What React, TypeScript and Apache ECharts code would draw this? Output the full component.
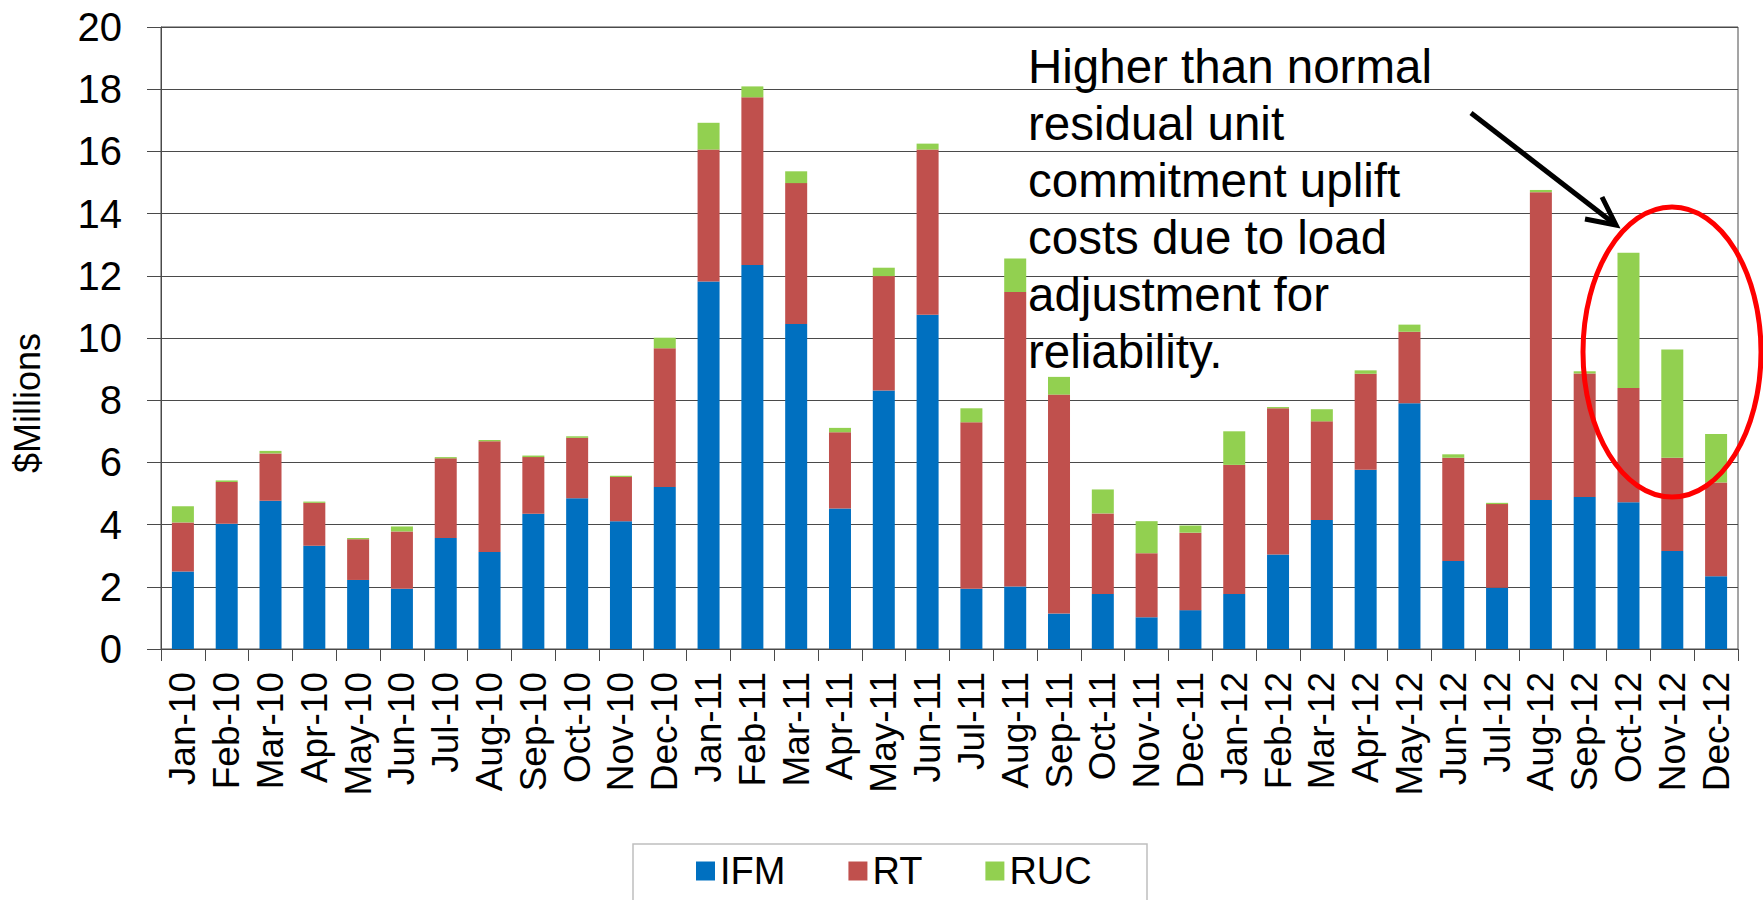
import React, { useEffect, useRef } from 'react';
import * as echarts from 'echarts';

const months = [
  'Jan-10', 'Feb-10', 'Mar-10', 'Apr-10', 'May-10', 'Jun-10', 'Jul-10', 'Aug-10', 'Sep-10', 'Oct-10', 'Nov-10', 'Dec-10',
  'Jan-11', 'Feb-11', 'Mar-11', 'Apr-11', 'May-11', 'Jun-11', 'Jul-11', 'Aug-11', 'Sep-11', 'Oct-11', 'Nov-11', 'Dec-11',
  'Jan-12', 'Feb-12', 'Mar-12', 'Apr-12', 'May-12', 'Jun-12', 'Jul-12', 'Aug-12', 'Sep-12', 'Oct-12', 'Nov-12', 'Dec-12',
];

const ifm = [
  2.49, 4.03, 4.77, 3.32, 2.22, 1.94, 3.57, 3.12, 4.35, 4.85, 4.11, 5.21,
  11.82, 12.35, 10.45, 4.52, 8.31, 10.75, 1.94, 2.01, 1.14, 1.77, 1.02, 1.25,
  1.77, 3.04, 4.15, 5.76, 7.9, 2.83, 1.97, 4.79, 4.89, 4.72, 3.15, 2.34,
];

const rt = [
  1.58, 1.34, 1.52, 1.38, 1.31, 1.84, 2.56, 3.56, 1.82, 1.94, 1.42, 4.46,
  4.24, 5.39, 4.53, 2.45, 3.68, 5.31, 5.35, 9.47, 7.04, 2.59, 2.06, 2.49,
  4.15, 4.7, 3.17, 3.09, 2.3, 3.32, 2.69, 9.9, 3.97, 3.67, 3.0, 3.01,
];

const ruc = [
  0.52, 0.05, 0.08, 0.04, 0.04, 0.16, 0.04, 0.04, 0.05, 0.05, 0.04, 0.34,
  0.86, 0.35, 0.38, 0.14, 0.27, 0.19, 0.45, 1.08, 0.57, 0.77, 1.03, 0.23,
  1.08, 0.04, 0.39, 0.11, 0.23, 0.11, 0.04, 0.07, 0.07, 4.35, 3.48, 1.56,
];

const seriesNames = ['IFM', 'RT', 'RUC'];
const seriesColors = ['#0070C0', '#C0504D', '#92D050'];
const annotationLines = [
  'Higher than normal',
  'residual unit',
  'commitment uplift',
  'costs due to load',
  'adjustment for',
  'reliability.',
];
const yAxisTitle = '$Millions';

const FONT = '"Liberation Sans", Arial, sans-serif';
const AXIS_COLOR = '#4a4a4a';

export default function App() {
  const ref = useRef<HTMLDivElement>(null);

  useEffect(() => {
    if (!ref.current) return;
    const chart = echarts.init(ref.current, null, { renderer: 'svg' });
    const data = [ifm, rt, ruc];
    chart.setOption({
      animation: false,
      backgroundColor: '#ffffff',
      textStyle: { fontFamily: FONT },
      grid: {
        left: 161,
        right: 25,
        top: 27,
        bottom: 251,
        show: true,
        borderColor: AXIS_COLOR,
        borderWidth: 1,
        containLabel: false,
      },
      legend: {
        data: seriesNames,
        left: 696,
        top: 852,
        padding: 0,
        itemWidth: 19,
        itemHeight: 19,
        itemGap: 63,
        icon: 'rect',
        textStyle: { fontSize: 38, color: '#000', fontFamily: FONT },
      },
      xAxis: {
        type: 'category',
        data: months,
        boundaryGap: true,
        axisLine: { show: true, lineStyle: { color: AXIS_COLOR, width: 1 } },
        axisTick: { show: true, length: 12, lineStyle: { color: AXIS_COLOR } },
        axisLabel: {
          rotate: 90,
          interval: 0,
          margin: 23,
          fontSize: 37,
          color: '#000',
          fontFamily: FONT,
        },
        splitLine: { show: false },
      },
      yAxis: {
        type: 'value',
        min: 0,
        max: 20,
        interval: 2,
        axisLine: { show: true, lineStyle: { color: AXIS_COLOR, width: 1 } },
        axisTick: { show: true, length: 14, lineStyle: { color: AXIS_COLOR } },
        axisLabel: { margin: 39, fontSize: 40, color: '#000', fontFamily: FONT },
        splitLine: { show: true, lineStyle: { color: AXIS_COLOR, width: 1 } },
      },
      series: seriesNames.map((name, i) => ({
        name,
        type: 'bar',
        stack: 'total',
        barWidth: 22,
        data: data[i],
        itemStyle: { color: seriesColors[i] },
      })),
      graphic: [
        {
          type: 'text',
          left: 27 - 18,
          top: 403 - 70,
          rotation: Math.PI / 2,
          originX: 0,
          originY: 0,
          style: {
            x: 0,
            y: 0,
            text: yAxisTitle,
            fontSize: 36,
            fontFamily: FONT,
            fill: '#000',
          },
          silent: true,
        },
        {
          type: 'rect',
          shape: { x: 633, y: 844, width: 514, height: 70 },
          style: { fill: 'none', stroke: '#BFBFBF', lineWidth: 1.5 },
          silent: true,
          z: 1,
        },
        {
          type: 'text',
          x: 1028,
          y: 38,
          style: {
            text: annotationLines.join('\n'),
            fontSize: 47.5,
            lineHeight: 57,
            fontFamily: FONT,
            fill: '#000',
            textVerticalAlign: 'top',
          },
          silent: true,
          z: 10,
        },
        {
          type: 'line',
          shape: { x1: 1471, y1: 113, x2: 1612, y2: 222 },
          style: { stroke: '#000', lineWidth: 5 },
          silent: true,
          z: 10,
        },
        {
          type: 'polyline',
          shape: { points: [[1585, 219], [1616, 225], [1602, 197]] },
          style: { stroke: '#000', lineWidth: 5, fill: 'none' },
          silent: true,
          z: 10,
        },
        {
          type: 'ellipse',
          shape: { cx: 1672, cy: 352, rx: 89, ry: 145 },
          style: { fill: 'none', stroke: '#FF0000', lineWidth: 5 },
          silent: true,
          z: 10,
        },
      ],
    });
    return () => chart.dispose();
  }, []);

  return (
    <div
      ref={ref}
      style={{ position: 'fixed', left: 0, top: 0, width: 1763, height: 900, background: '#fff' }}
    />
  );
}
